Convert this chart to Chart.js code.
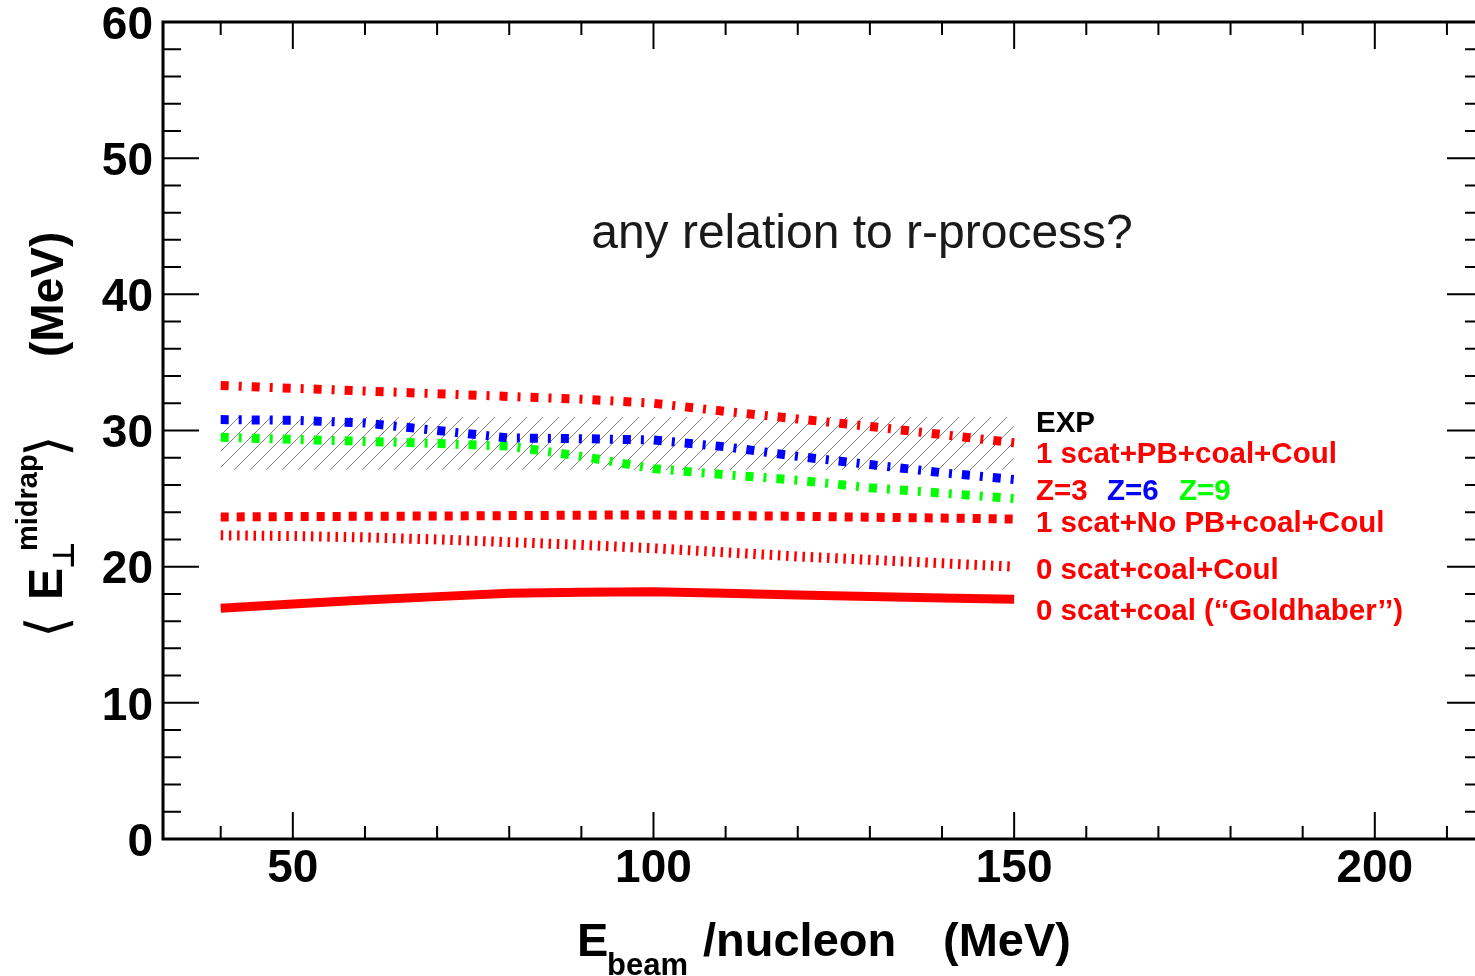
<!DOCTYPE html>
<html>
<head>
<meta charset="utf-8">
<script src="https://cdn.jsdelivr.net/npm/chart.js@4.4.0/dist/chart.umd.min.js"></script>
<style>
  html, body { margin: 0; padding: 0; background: #fff; overflow: hidden; }
  #wrap { position: absolute; left: 0; top: 0; width: 1500px; height: 976px; }
</style>
</head>
<body>
<div id="wrap"><canvas id="chart" width="1500" height="976"></canvas></div>
<script>
// beam energy per nucleon (MeV)
const energies = [40, 50, 60, 70, 80, 90, 100, 110, 120, 130, 140, 150];

// 1 scat + PB + coal + Coul, per fragment charge
const scatPB_Z3 = [33.3, 33.1, 32.9, 32.7, 32.5, 32.3, 32.0, 31.4, 30.85, 30.3, 29.7, 29.1];
const scatPB_Z6 = [30.8, 30.75, 30.55, 30.0, 29.45, 29.4, 29.3, 28.8, 28.1, 27.5, 26.9, 26.4];
const scatPB_Z9 = [29.5, 29.35, 29.2, 29.05, 28.85, 28.1, 27.2, 26.75, 26.35, 25.8, 25.4, 25.0];
// 1 scat + no PB + coal + Coul
const scatNoPB = [23.65, 23.68, 23.7, 23.72, 23.75, 23.78, 23.8, 23.75, 23.7, 23.63, 23.57, 23.5];
// 0 scat + coal + Coul
const noScatCoul = [22.3, 22.25, 22.15, 22.0, 21.8, 21.6, 21.35, 21.05, 20.75, 20.5, 20.25, 20.0];
// 0 scat + coal ("Goldhaber")
const goldhaber = [16.95, 17.25, 17.55, 17.8, 18.05, 18.12, 18.15, 18.05, 17.92, 17.8, 17.7, 17.6];

// experimental band
const expEnergies = [40, 150];
const expUpper = [31.0, 31.0];
const expLower = [27.1, 27.1];

// axis ticks
const xLabels = [50, 100, 150, 200];
const yLabels = [0, 10, 20, 30, 40, 50, 60];

const RED = '#ff0000', BLUE = '#0000ff', GREEN = '#00ff00';
const FONT = "'Liberation Sans', Arial, Helvetica, sans-serif";

function pts(xs, ys) {
    return xs.map((x, i) => ({ x: x, y: ys[i] }));
}

// diagonal hatching for the EXP band
function hatch() {
    const c = document.createElement('canvas');
    c.width = 16; c.height = 16;
    const g = c.getContext('2d');
    g.strokeStyle = '#808080';
    g.lineWidth = 1;
    g.beginPath();
    g.moveTo(-1, 17); g.lineTo(17, -1);
    g.moveTo(-1, 1); g.lineTo(1, -1);
    g.moveTo(15, 17); g.lineTo(17, 15);
    g.stroke();
    return g.createPattern(c, 'repeat');
}

function line(data, color, width, dash, order) {
    return {
        data: data, borderColor: color, borderWidth: width, borderDash: dash,
        borderCapStyle: 'butt', pointRadius: 0, fill: false, tension: 0, order: order || 0
    };
}

// ROOT-like frame with inward ticks on all sides
const frame = {
    id: 'frame',
    afterDatasetsDraw(chart) {
        const { ctx, chartArea: a, scales: { x, y } } = chart;
        ctx.save();
        ctx.strokeStyle = '#000';
        ctx.lineWidth = 2;
        ctx.beginPath();
        for (let v = 40; v <= 210; v += 10) {
            const px = x.getPixelForValue(v);
            const len = xLabels.includes(v) ? 27 : 13;
            ctx.moveTo(px, a.bottom); ctx.lineTo(px, a.bottom - len);
            ctx.moveTo(px, a.top); ctx.lineTo(px, a.top + len);
        }
        for (let v = 2; v < 60; v += 2) {
            const py = y.getPixelForValue(v);
            const len = v % 10 === 0 ? 36 : 18;
            ctx.moveTo(a.left, py); ctx.lineTo(a.left + len, py);
            ctx.moveTo(a.right, py); ctx.lineTo(a.right - len, py);
        }
        ctx.stroke();
        ctx.lineWidth = 3;
        ctx.strokeRect(a.left, a.top, a.right - a.left, a.bottom - a.top);
        ctx.restore();
    }
};

// titles, legend text and the note
const texts = {
    id: 'texts',
    afterDraw(chart) {
        const ctx = chart.ctx;
        ctx.save();
        ctx.textBaseline = 'alphabetic';

        ctx.fillStyle = '#1a1a1a';
        ctx.font = '48px ' + FONT;
        ctx.textAlign = 'center';
        ctx.fillText('any relation to r-process?', 862, 248);
        ctx.textAlign = 'left';

        ctx.font = 'bold 29.5px ' + FONT;
        ctx.fillStyle = '#000';
        ctx.fillText('EXP', 1036, 432);
        ctx.fillStyle = RED;
        ctx.fillText('1 scat+PB+coal+Coul', 1036, 463);
        ctx.fillText('Z=3', 1036, 500);
        ctx.fillStyle = BLUE;
        ctx.fillText('Z=6', 1107, 500);
        ctx.fillStyle = GREEN;
        ctx.fillText('Z=9', 1179, 500);
        ctx.fillStyle = RED;
        ctx.fillText('1 scat+No PB+coal+Coul', 1036, 532);
        ctx.fillText('0 scat+coal+Coul', 1036, 579);
        ctx.fillText('0 scat+coal (\u2018\u2018Goldhaber\u2019\u2019)', 1036, 620);

        // x axis title
        ctx.fillStyle = '#000';
        ctx.font = 'bold 47px ' + FONT;
        ctx.fillText('E', 577, 956);
        ctx.fillText('/nucleon', 703, 956);
        ctx.fillText('(MeV)', 943, 956);
        ctx.font = 'bold 31px ' + FONT;
        ctx.fillText('beam', 607, 975);

        // y axis title, reading upwards
        const up = (s, font, bx, sy) => {
            ctx.save();
            ctx.font = font;
            ctx.translate(bx, sy);
            ctx.rotate(-Math.PI / 2);
            ctx.fillText(s, 0, 0);
            ctx.restore();
        };
        up('\u27E8', '56px DejaVu Sans', 66, 638);
        up('E', 'bold 48px ' + FONT, 62, 600);
        up('\u22A5', 'bold 30px DejaVu Sans', 74, 569);
        up('midrap', 'bold 29px ' + FONT, 37, 551);
        up('\u27E9', '56px DejaVu Sans', 66, 457);
        up('(MeV)', 'bold 46px ' + FONT, 63, 357);
        ctx.restore();
    }
};

const ctx = document.getElementById('chart').getContext('2d');
const chart = new Chart(ctx, {
    type: 'line',
    data: {
        datasets: [
            line(pts(energies, scatPB_Z3), RED, 9, [8, 10, 3, 10]),
            line(pts(energies, scatPB_Z6), BLUE, 9, [8, 10, 3, 10]),
            line(pts(energies, scatPB_Z9), GREEN, 9, [8, 10, 3, 10]),
            line(pts(energies, scatNoPB), RED, 9, [8, 8]),
            line(pts(energies, noScatCoul), RED, 10, [2.5, 5.7]),
            line(pts(energies, goldhaber), RED, 9, []),
            {
                data: pts(expEnergies, expUpper), borderWidth: 0, borderColor: 'rgba(0,0,0,0)',
                pointRadius: 0, fill: '+1', backgroundColor: hatch(), order: 10
            },
            {
                data: pts(expEnergies, expLower), borderWidth: 0, borderColor: 'rgba(0,0,0,0)',
                pointRadius: 0, fill: false, order: 11
            }
        ]
    },
    options: {
        responsive: false,
        animation: false,
        devicePixelRatio: 1,
        layout: { padding: { top: 22, right: 17, left: 0, bottom: 0 } },
        plugins: { legend: { display: false }, tooltip: { enabled: false } },
        scales: {
            x: {
                type: 'linear',
                min: 32,
                max: 215,
                grid: { display: false, drawTicks: false },
                border: { display: false },
                afterBuildTicks: s => { s.ticks = xLabels.map(v => ({ value: v })); },
                afterFit: s => { s.height = 137; s.paddingLeft = 0; s.paddingRight = 0; },
                ticks: {
                    autoSkip: false, maxRotation: 0, padding: 3, color: '#000',
                    font: { family: FONT, weight: 'bold', size: 46 }
                }
            },
            y: {
                type: 'linear',
                min: 0,
                max: 60,
                grid: { display: false, drawTicks: false },
                border: { display: false },
                afterBuildTicks: s => { s.ticks = yLabels.map(v => ({ value: v })); },
                afterFit: s => { s.width = 163; s.paddingTop = 0; s.paddingBottom = 0; },
                ticks: {
                    autoSkip: false, padding: 10, labelOffset: 4, color: '#000',
                    font: { family: FONT, weight: 'bold', size: 46 }
                }
            }
        }
    },
    plugins: [frame, texts]
});
</script>
</body>
</html>
